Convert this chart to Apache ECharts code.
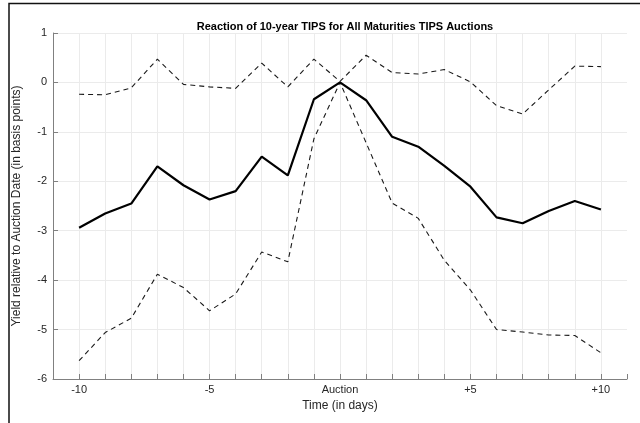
<!DOCTYPE html>
<html>
<head>
<meta charset="utf-8">
<script src="https://cdn.jsdelivr.net/npm/echarts@6/dist/echarts.min.js"></script>
<style>
html,body{margin:0;padding:0;background:#fff;}
#chart{width:640px;height:423px;}
</style>
</head>
<body>
<div id="chart"></div>
<script>
var days = [-10,-9,-8,-7,-6,-5,-4,-3,-2,-1,0,1,2,3,4,5,6,7,8,9,10];
var meanReaction = [-2.94,-2.65,-2.45,-1.70,-2.08,-2.37,-2.20,-1.50,-1.88,-0.34,0.00,-0.36,-1.10,-1.30,-1.69,-2.11,-2.73,-2.85,-2.60,-2.40,-2.57];
var upperBand = [-0.24,-0.25,-0.11,0.47,-0.04,-0.09,-0.12,0.39,-0.09,0.47,0.02,0.55,0.20,0.17,0.26,0.01,-0.47,-0.64,-0.15,0.33,0.32];
var lowerBand = [-5.63,-5.06,-4.77,-3.88,-4.15,-4.62,-4.28,-3.43,-3.63,-1.14,0.00,-1.22,-2.44,-2.75,-3.60,-4.20,-5.00,-5.05,-5.11,-5.12,-5.47];
var xTickLabels = {"-10":"-10","-5":"-5","0":"Auction","5":"+5","10":"+10"};

function pairs(vals){ return days.map(function(d,i){ return [d, vals[i]]; }); }

var chart = echarts.init(document.getElementById('chart'), null, {renderer:'canvas'});
var axisColor = '#808080';
var textColor = '#262626';
var font = 'Liberation Sans, Arial, Helvetica, sans-serif';
chart.setOption({
  animation:false,
  backgroundColor:'#fff',
  title:{
    text:'Reaction of 10-year TIPS for All Maturities TIPS Auctions',
    left:340, top:16, textAlign:'center',
    textStyle:{fontFamily:font, fontSize:11, fontWeight:'bold', color:'#000'}
  },
  grid:{left:53, right:13, top:33, bottom:44, containLabel:false},
  xAxis:{
    type:'value', min:-11, max:11, interval:1,
    name:'Time (in days)', nameLocation:'middle', nameGap:21,
    nameTextStyle:{fontFamily:font, fontSize:12, color:textColor},
    axisLine:{show:true, onZero:false, lineStyle:{color:axisColor, width:1}},
    axisTick:{show:true, inside:true, length:5, lineStyle:{color:axisColor}},
    axisLabel:{fontFamily:font, fontSize:11, color:textColor, margin:5,
      formatter:function(v){ var k=String(v); return xTickLabels.hasOwnProperty(k)?xTickLabels[k]:''; }},
    splitLine:{show:true, showMinLine:false, showMaxLine:false, lineStyle:{color:'#ebebeb', width:1}}
  },
  yAxis:{
    type:'value', min:-6, max:1, interval:1,
    name:'Yield relative to Auction Date (in basis points)', nameLocation:'middle', nameGap:30,
    nameTextStyle:{fontFamily:font, fontSize:12, color:textColor},
    axisLine:{show:true, onZero:false, lineStyle:{color:axisColor, width:1}},
    axisTick:{show:true, inside:true, length:5, lineStyle:{color:axisColor}},
    axisLabel:{fontFamily:font, fontSize:11, color:textColor, margin:6},
    splitLine:{show:true, lineStyle:{color:'#ebebeb', width:1}}
  },
  series:[
    {type:'line', data:pairs(upperBand), symbol:'none', lineStyle:{color:'#1a1a1a', width:1.1, type:[5,4]}, z:2},
    {type:'line', data:pairs(lowerBand), symbol:'none', lineStyle:{color:'#1a1a1a', width:1.1, type:[5,4]}, z:2},
    {type:'line', data:pairs(meanReaction), symbol:'none', lineStyle:{color:'#000', width:2.2}, z:3}
  ],
  graphic:[
    {type:'polyline', shape:{points:[[9,423],[9,3.5],[640,3.5]]}, style:{stroke:'#111', lineWidth:1.5, fill:null}, silent:true}
  ]
});
</script>
</body>
</html>
